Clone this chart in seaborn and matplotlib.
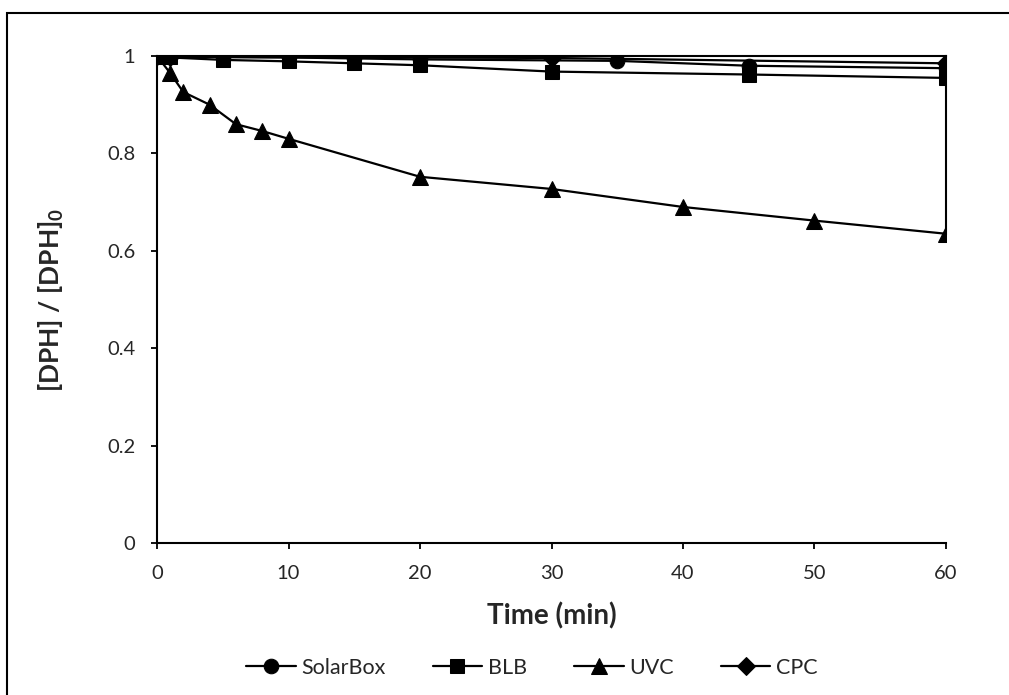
import matplotlib
matplotlib.use("Agg")
import matplotlib.pyplot as plt
import seaborn as sns
import pandas as pd
from matplotlib.patches import Rectangle

# ---- data ----
solar_t = [0, 1, 5, 10, 15, 20, 35, 45, 60]
solar_v = [1.0, 0.999, 0.998, 0.997, 0.995, 0.993, 0.990, 0.980, 0.975]

blb_t = [0, 1, 5, 10, 15, 20, 30, 45, 60]
blb_v = [1.0, 0.997, 0.992, 0.989, 0.985, 0.981, 0.968, 0.962, 0.955]

uvc_t = [0, 1, 2, 4, 6, 8, 10, 20, 30, 40, 50, 60]
uvc_v = [1.0, 0.965, 0.926, 0.900, 0.860, 0.846, 0.830, 0.752, 0.727, 0.690, 0.662, 0.635]

cpc_t = [0, 1, 30, 60]
cpc_v = [1.0, 0.998, 0.996, 0.985]

series_names = ["SolarBox", "BLB", "UVC", "CPC"]
x_ticks = [0, 10, 20, 30, 40, 50, 60]
y_ticks = [0, 0.2, 0.4, 0.6, 0.8, 1.0]
y_ticklabels = ["0", "0.2", "0.4", "0.6", "0.8", "1"]

df = pd.concat([
    pd.DataFrame({"t": solar_t, "v": solar_v, "s": "SolarBox"}),
    pd.DataFrame({"t": blb_t, "v": blb_v, "s": "BLB"}),
    pd.DataFrame({"t": uvc_t, "v": uvc_v, "s": "UVC"}),
    pd.DataFrame({"t": cpc_t, "v": cpc_v, "s": "CPC"}),
], ignore_index=True)

sns.set_theme(style="white")
plt.rcParams["font.family"] = ["Lato", "DejaVu Sans"]
plt.rcParams["mathtext.fontset"] = "custom"
plt.rcParams["mathtext.rm"] = "Lato"
plt.rcParams["mathtext.bf"] = "Lato:bold"

fig = plt.figure(figsize=(10.09, 6.95), dpi=100)
ax = fig.add_axes([157/1009, 1 - 543/695, 789/1009, 487/695])

markers = {"SolarBox": "o", "BLB": "s", "UVC": "^", "CPC": "D"}
sizes = {"SolarBox": 10.5, "BLB": 10, "UVC": 11, "CPC": 9}
for name in series_names:
    sub = df[df["s"] == name]
    sns.lineplot(data=sub, x="t", y="v", ax=ax, color="black", lw=1.6,
                 marker=markers[name], markersize=sizes[name],
                 markeredgecolor="black", markerfacecolor="black",
                 label=name, estimator=None, sort=False)

ax.set_xlim(0, 60)
ax.set_ylim(0, 1.0)
ax.set_xticks(x_ticks)
ax.set_xticklabels([str(v) for v in x_ticks], fontsize=14.5)
ax.set_yticks(y_ticks)
ax.set_yticklabels(y_ticklabels, fontsize=14.5)
ax.tick_params(axis="both", direction="out", length=4.5, width=1.3, color="black",
               bottom=True, left=True, pad=11)
for side in ["left", "bottom", "top", "right"]:
    ax.spines[side].set_color("black")
    ax.spines[side].set_linewidth(1.5)
ax.spines["right"].set_bounds(uvc_v[-1], 1.0)

ax.set_xlabel("Time (min)", fontsize=20, fontweight="bold", labelpad=15)
ax.set_ylabel(r"[DPH] / [DPH]$_\mathbf{0}$", fontsize=19, fontweight="bold", labelpad=30)

leg = fig.legend(*ax.get_legend_handles_labels(), loc="center", bbox_to_anchor=(0.527, 1 - 668/695),
                 ncol=4, frameon=False, fontsize=15.5, handlelength=2.3,
                 columnspacing=2.2, handletextpad=0.25)
ax.get_legend().remove()

fig.patches.append(Rectangle((7/1009, -0.1), 1.2, 1 - 13/695 + 0.1,
                             transform=fig.transFigure, fill=False,
                             edgecolor="black", linewidth=1.5, figure=fig))

fig.savefig("out.png", dpi=100)
